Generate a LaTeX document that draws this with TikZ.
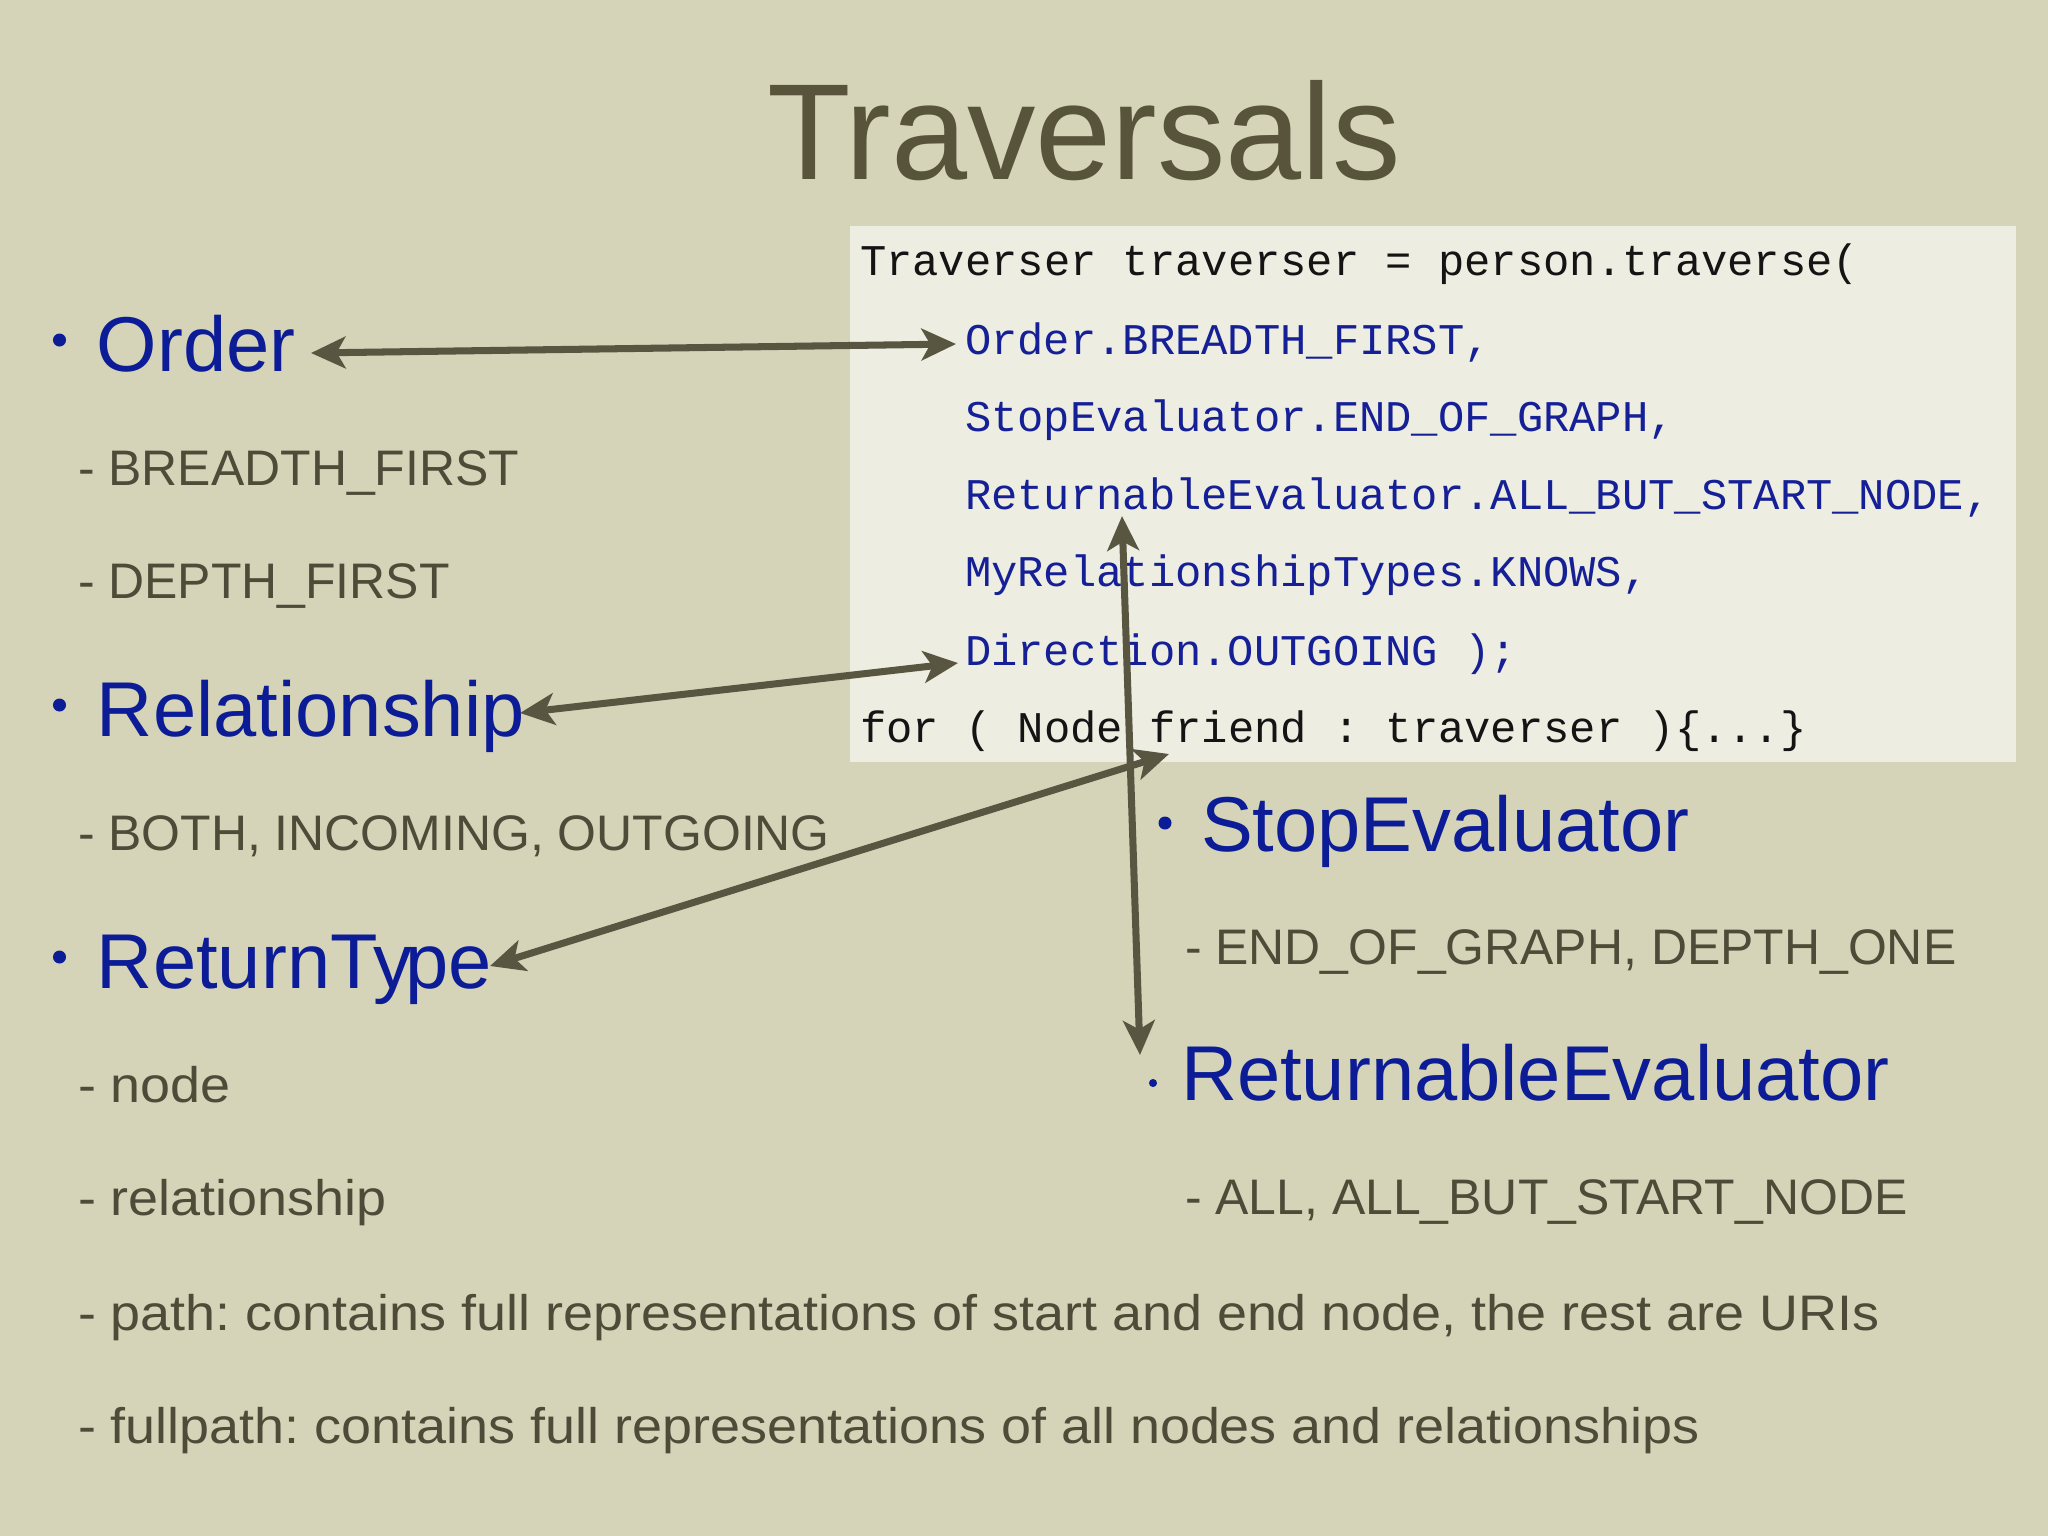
\documentclass[tikz,border=0pt]{standalone}
\usepackage{fontspec}
\setmainfont{Liberation Sans}
\newfontfamily\codefont{Liberation Mono}
\usetikzlibrary{arrows.meta}
\definecolor{bg}{RGB}{213,212,184}
\definecolor{codebg}{RGB}{237,237,226}
\definecolor{headblue}{RGB}{12,28,150}
\definecolor{codeblue}{RGB}{22,32,150}
\definecolor{subgray}{RGB}{78,75,56}
\definecolor{titlegray}{RGB}{88,84,60}
\definecolor{arrowcol}{RGB}{88,86,64}
\definecolor{codeblack}{RGB}{20,20,20}
\frenchspacing
\tikzset{
  txt/.style={inner sep=0pt, outer sep=0pt, anchor=base west},
  heading/.style={txt, text=headblue, font=\fontsize{22.1pt}{26pt}\selectfont},
  subitem/.style={txt, text=subgray, font=\fontsize{14.2pt}{17pt}\selectfont},
  codeline/.style={txt, text=codeblack, font=\codefont\fontsize{12.46pt}{15pt}\selectfont},
  codeblueline/.style={codeline, text=codeblue},
  bulletdot/.style={circle, fill=headblue, inner sep=0pt, minimum size=#1},
  biarrow/.style={draw=arrowcol, line width=2pt,
    {Stealth[length=9.8pt,width=9pt,inset=2.5pt]}-{Stealth[length=9.8pt,width=9pt,inset=2.5pt]}}
}
\newcommand{\wider}[1]{\scalebox{1.08}[1]{#1}}
\begin{document}
\begin{tikzpicture}[x=0.01cm,y=-0.01cm]
\fill[bg] (0,0) rectangle (2048,1536);
\useasboundingbox (0,0) rectangle (2048,1536);

% title
\node[inner sep=0pt, anchor=base, text=titlegray, font=\fontsize{38.9pt}{44pt}\selectfont] (title) at (1084,179) {Traversals};

% code box
\fill[codebg] (850,226) rectangle (2016,762);
\node[codeline] (c1) at (860,275) {Traverser traverser = person.traverse(};
\node[codeblueline] (c2) at (965,354) {Order.BREADTH\_FIRST,};
\node[codeblueline] (c3) at (965,431) {StopEvaluator.END\_OF\_GRAPH,};
\node[codeblueline] (c4) at (965,509) {ReturnableEvaluator.ALL\_BUT\_START\_NODE,};
\node[codeblueline] (c5) at (965,586) {MyRelationshipTypes.KNOWS,};
\node[codeblueline] (c6) at (965,665) {Direction.OUTGOING );};
\node[codeline] (c7) at (860,742) {for ( Node friend : traverser )\{...\}};

% left column
\node[bulletdot=3.7pt] (b1) at (59.5,340) {};
\node[heading] (order) at (97,371) {Order};
\node[subitem] (s1) at (78,485) {- BREADTH\_FIRST};
\node[subitem] (s2) at (78,598) {- DEPTH\_FIRST};
\node[bulletdot=3.7pt] (b2) at (59.5,705) {};
\node[heading] (rel) at (97,736) {Relationship};
\node[subitem] (s3) at (78,850) {- BOTH, INCOMING, OUTGOING};
\node[bulletdot=3.7pt] (b3) at (59.5,957) {};
\node[heading] (ret) at (97,988) {ReturnTy\kern-2pt pe};
\node[subitem] (s4) at (78,1102) {\wider{- node}};
\node[subitem] (s5) at (78,1215) {\wider{- relationship}};
\node[subitem] (s6) at (78,1330) {\wider{- path: contains full representations of start and end node, the rest are URIs}};
\node[subitem] (s7) at (78,1443) {\wider{- fullpath: contains full representations of all nodes and relationships}};

% right column
\node[bulletdot=3.7pt] (b4) at (1165,823) {};
\node[heading] (stop) at (1201,851) {StopEvaluator};
\node[subitem] (s8) at (1185,964) {- END\_OF\_GRAPH, DEPTH\_ONE};
\node[bulletdot=2.3pt] (b5) at (1153,1083) {};
\node[heading] (retev) at (1181,1100) {ReturnableEvaluator};
\node[subitem] (s9) at (1185,1214) {- ALL, ALL\_BUT\_START\_NODE};

% arrow end points
\coordinate (a1l) at (311,353);
\coordinate (a1r) at (956,344);
\coordinate (a2l) at (520,713);
\coordinate (a2r) at (958,663);
\coordinate (a3l) at (490,966);
\coordinate (a3r) at (1169,754);
\coordinate (a4t) at (1122,516);
\coordinate (a4b) at (1140,1055);

\draw[biarrow] (a1l) -- (a1r);
\draw[biarrow] (a2l) -- (a2r);
\draw[biarrow] (a3l) -- (a3r);
\draw[biarrow] (a4t) -- (a4b);
\end{tikzpicture}
\end{document}
